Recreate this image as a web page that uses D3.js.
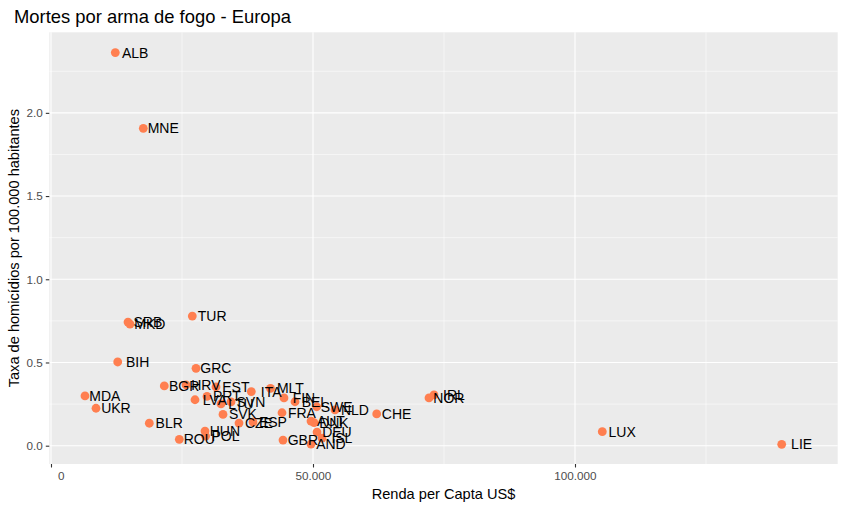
<!DOCTYPE html>
<html><head><meta charset="utf-8">
<script src="https://cdn.jsdelivr.net/npm/d3@7"></script>
<style>body{margin:0;background:#fff}svg{display:block}</style>
</head><body>
<script>
const countries = ["ALB","MNE","SRB","MKD","TUR","BIH","GRC","BGR","HRV","EST","ITA","MLT","LVA","PRT","LTU","SVN","SVK","CZE","ESP","HUN","POL","ROU","MDA","UKR","BLR","FIN","BEL","SWE","NLD","FRA","AUT","DNK","DEU","ISL","AND","GBR","CHE","IRL","NOR","LUX","LIE"];
const gdp = [12271,17615,14695,15076,26966,12729,27672,21622,25763,31489,38225,41889,27481,29771,32443,34351,32824,35878,38550,29389,29500,24485,6489,8588,18760,44466,46565,50706,54199,44084,49618,50191,50763,51717,49618,44275,62157,73092,72138,105210,139447];
const rate = [2.362,1.907,0.743,0.731,0.779,0.503,0.465,0.359,0.365,0.353,0.325,0.344,0.276,0.296,0.251,0.263,0.188,0.136,0.142,0.088,0.058,0.038,0.299,0.225,0.135,0.287,0.264,0.234,0.215,0.198,0.148,0.139,0.082,0.046,0.010,0.034,0.191,0.305,0.287,0.084,0.008];
const xTicks = [0,50000,100000];
const xTickLabels = ["\u00a0\u00a0\u00a0\u00a0\u00a0\u00a00","50.000","100.000"];
const yTicks = [0,0.5,1,1.5,2];
const yTickLabels = ["0.0","0.5","1.0","1.5","2.0"];

const W=846,H=509;
const m={l:49.3,r:846-837.7,t:32.3,b:509-464};
const svg=d3.select("body").append("svg").attr("width",W).attr("height",H);
const font="Liberation Sans, Arial, sans-serif";
const x=d3.scaleLinear().domain([-324,150134]).range([m.l,W-m.r]);
const y=d3.scaleLinear().domain([-0.110,2.484]).range([H-m.b,m.t]);

svg.append("rect").attr("x",m.l).attr("y",m.t).attr("width",W-m.l-m.r).attr("height",H-m.t-m.b).attr("fill","#EBEBEB");
const g=svg.append("g");
const xMinor=[25000,75000,125000], yMinor=[0.25,0.75,1.25,1.75,2.25];
g.selectAll(".xm").data(xMinor).join("line").attr("x1",d=>x(d)).attr("x2",d=>x(d)).attr("y1",m.t).attr("y2",H-m.b).attr("stroke","#fff").attr("stroke-width",0.55);
g.selectAll(".ym").data(yMinor).join("line").attr("y1",d=>y(d)).attr("y2",d=>y(d)).attr("x1",m.l).attr("x2",W-m.r).attr("stroke","#fff").attr("stroke-width",0.55);
g.selectAll(".xM").data(xTicks).join("line").attr("x1",d=>x(d)).attr("x2",d=>x(d)).attr("y1",m.t).attr("y2",H-m.b).attr("stroke","#fff").attr("stroke-width",1.1);
g.selectAll(".yM").data(yTicks).join("line").attr("y1",d=>y(d)).attr("y2",d=>y(d)).attr("x1",m.l).attr("x2",W-m.r).attr("stroke","#fff").attr("stroke-width",1.1);

const xAxis=svg.append("g").attr("transform",`translate(0,${H-m.b})`)
 .call(d3.axisBottom(x).tickValues(xTicks).tickFormat((d,i)=>xTickLabels[i]).tickSize(3.5).tickPadding(4));
const yAxis=svg.append("g").attr("transform",`translate(${m.l},0)`)
 .call(d3.axisLeft(y).tickValues(yTicks).tickFormat((d,i)=>yTickLabels[i]).tickSize(3.5).tickPadding(3));
[xAxis,yAxis].forEach(a=>{a.select(".domain").remove();a.selectAll("line").attr("stroke","#333").attr("stroke-width",1.1);
 a.selectAll("text").attr("fill","#4D4D4D").attr("font-size","11.7px").attr("font-family",font).style("white-space","pre");});

const data=countries.map((c,i)=>({c,x:gdp[i],y:rate[i]}));
svg.append("g").selectAll("circle").data(data).join("circle").attr("cx",d=>x(d.x)).attr("cy",d=>y(d.y)).attr("r",4.4).attr("fill","#FF7F50");
svg.append("g").selectAll("text").data(data).join("text").attr("x",d=>x(d.x+3800)).attr("y",d=>y(d.y)).attr("dy","0.36em")
 .attr("text-anchor","middle").attr("font-size","14px").attr("font-family",font).attr("fill","#000").text(d=>d.c);

svg.append("text").attr("x",14).attr("y",23).attr("font-size","18.4px").attr("font-family",font).attr("fill","#000").text("Mortes por arma de fogo - Europa");
svg.append("text").attr("x",(m.l+W-m.r)/2).attr("y",499).attr("text-anchor","middle").attr("font-size","14.6px").attr("font-family",font).text("Renda per Capta US$");
svg.append("text").attr("transform",`translate(19,${(m.t+H-m.b)/2}) rotate(-90)`).attr("text-anchor","middle").attr("font-size","14.6px").attr("font-family",font).text("Taxa de homicídios por 100.000 habitantes");
</script>
</body></html>
